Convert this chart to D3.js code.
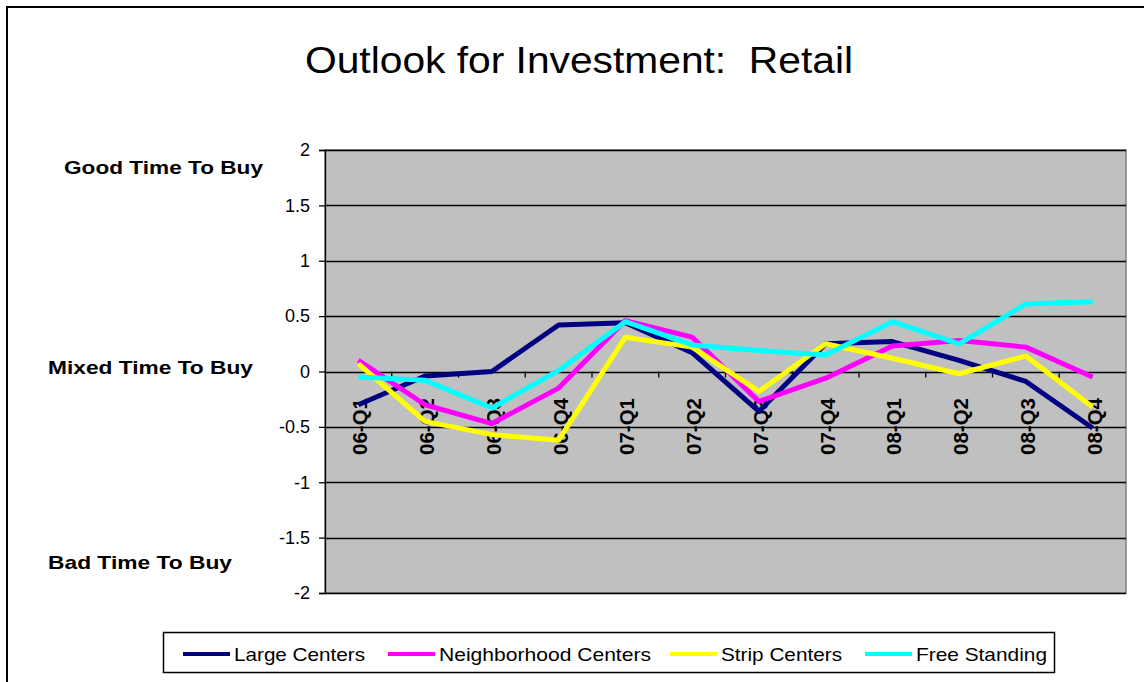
<!DOCTYPE html>
<html>
<head>
<meta charset="utf-8">
<script src="https://cdn.jsdelivr.net/npm/d3@7"></script>
<style>
  body { margin: 0; background: #fff; }
  text { font-family: "Liberation Sans", Arial, sans-serif; }
</style>
</head>
<body>
<div id="chart"></div>
<script>
const width = 1144,
      height = 682;

// quarters on the x axis
const quarters = ["06-Q1", "06-Q2", "06-Q3", "06-Q4", "07-Q1", "07-Q2",
                  "07-Q3", "07-Q4", "08-Q1", "08-Q2", "08-Q3", "08-Q4"];

const largeCenters        = [-0.30, -0.04, 0.00, 0.42, 0.44, 0.17, -0.36, 0.25, 0.27, 0.10, -0.09, -0.51];
const neighborhoodCenters = [0.10, -0.30, -0.47, -0.15, 0.46, 0.31, -0.27, -0.06, 0.23, 0.28, 0.22, -0.05];
const stripCenters        = [0.07, -0.45, -0.57, -0.62, 0.31, 0.22, -0.18, 0.25, 0.12, -0.02, 0.14, -0.32];
const freeStanding        = [-0.05, -0.08, -0.33, 0.01, 0.45, 0.24, 0.19, 0.15, 0.45, 0.25, 0.61, 0.63];

const seriesNames  = ["Large Centers", "Neighborhood Centers", "Strip Centers", "Free Standing"];
const seriesColors = ["#000080", "#ff00ff", "#ffff00", "#00ffff"];
const yTicks = [2, 1.5, 1, 0.5, 0, -0.5, -1, -1.5, -2];
const sideLabels = ["Good Time To Buy", "Mixed Time To Buy", "Bad Time To Buy"];
const sideValues = [1.85, 0.04, -1.72];

const series = seriesNames.map(function (name, i) {
  return { name: name, color: seriesColors[i],
           values: [largeCenters, neighborhoodCenters, stripCenters, freeStanding][i] };
});

const plot = { left: 325, top: 150, right: 1126, bottom: 593 };

const svg = d3.select("#chart").append("svg")
    .attr("width", width)
    .attr("height", height);

// outer frame (only top and left visible in the picture)
svg.append("path")
    .attr("d", "M7,682V7H1144")
    .attr("fill", "none")
    .attr("stroke", "#000")
    .attr("stroke-width", 2);

svg.append("text")
    .attr("x", 305)
    .attr("y", 73)
    .attr("font-size", 37)
    .attr("xml:space", "preserve")
    .attr("textLength", 548)
    .attr("lengthAdjust", "spacingAndGlyphs")
    .text("Outlook for Investment:  Retail");

const x = d3.scaleBand().domain(quarters).range([plot.left, plot.right]);
const y = d3.scaleLinear().domain([-2, 2]).range([plot.bottom, plot.top]);

svg.append("rect")
    .attr("x", plot.left)
    .attr("y", plot.top)
    .attr("width", plot.right - plot.left)
    .attr("height", plot.bottom - plot.top)
    .attr("fill", "#c0c0c0")
    .attr("stroke", "#808080")
    .attr("stroke-width", 1.5);

// grid lines
svg.selectAll(".grid")
    .data(yTicks)
    .enter().append("line")
    .attr("class", "grid")
    .attr("x1", plot.left)
    .attr("x2", plot.right)
    .attr("y1", function (d) { return Math.round(y(d)) + 0.5; })
    .attr("y2", function (d) { return Math.round(y(d)) + 0.5; })
    .attr("stroke", "#000")
    .attr("stroke-width", 1.3);

// y axis
const yAxis = svg.append("g")
    .attr("transform", "translate(" + plot.left + ",0)")
    .call(d3.axisLeft(y).tickValues(yTicks).tickSize(6).tickPadding(9)
      .tickFormat(function (d) { return String(d); }));
yAxis.select(".domain").attr("stroke", "#000").attr("stroke-width", 1.3);
yAxis.selectAll(".tick line").attr("stroke", "#000").attr("stroke-width", 1.3);
yAxis.selectAll(".tick text")
    .attr("font-size", 18)
    .attr("font-family", "Liberation Sans, Arial, sans-serif")
    .attr("fill", "#000");

// x axis at zero with ticks between categories
const boundaries = quarters.slice(1).map(function (q) { return x(q); });
svg.selectAll(".xtick")
    .data(boundaries)
    .enter().append("line")
    .attr("class", "xtick")
    .attr("x1", function (d) { return d; })
    .attr("x2", function (d) { return d; })
    .attr("y1", y(0))
    .attr("y2", y(0) + 6)
    .attr("stroke", "#000")
    .attr("stroke-width", 1.3);

svg.selectAll(".xlabel")
    .data(quarters)
    .enter().append("text")
    .attr("class", "xlabel")
    .attr("transform", function (d) {
      return "translate(" + (x(d) + x.bandwidth() / 2 + 9) + "," + 398 + ") rotate(-90)";
    })
    .attr("text-anchor", "end")
    .attr("font-size", 21)
    .attr("font-weight", "bold")
    .attr("textLength", 57)
    .attr("lengthAdjust", "spacingAndGlyphs")
    .text(function (d) { return d; });

// side labels
const sideX = [64, 48, 48];
const sideW = [199, 205, 184];
svg.selectAll(".side")
    .data(sideLabels)
    .enter().append("text")
    .attr("class", "side")
    .attr("x", function (d, i) { return sideX[i]; })
    .attr("y", function (d, i) { return y(sideValues[i]) + 7; })
    .attr("font-size", 19)
    .attr("font-weight", "bold")
    .attr("textLength", function (d, i) { return sideW[i]; })
    .attr("lengthAdjust", "spacingAndGlyphs")
    .text(function (d) { return d; });

const line = d3.line()
    .x(function (d, i) { return x(quarters[i]) + x.bandwidth() / 2; })
    .y(function (d) { return y(d); });

svg.selectAll(".series")
    .data(series)
    .enter().append("path")
    .attr("class", "series")
    .attr("d", function (d) { return line(d.values); })
    .attr("fill", "none")
    .attr("stroke", function (d) { return d.color; })
    .attr("stroke-width", 5)
    .attr("stroke-linejoin", "round");

// legend
const legend = svg.append("g");
legend.append("rect")
    .attr("x", 163.5)
    .attr("y", 632.5)
    .attr("width", 891)
    .attr("height", 40)
    .attr("fill", "#fff")
    .attr("stroke", "#000")
    .attr("stroke-width", 1.5);

const legendX = [183, 388, 670, 865];
const legendW = [131, 212, 121, 131];
const item = legend.selectAll(".item")
    .data(series)
    .enter().append("g")
    .attr("class", "item")
    .attr("transform", function (d, i) { return "translate(" + legendX[i] + ",654)"; });
item.append("line")
    .attr("x1", 0).attr("x2", 47)
    .attr("stroke", function (d) { return d.color; })
    .attr("stroke-width", 4);
item.append("text")
    .attr("x", 51)
    .attr("y", 7)
    .attr("font-size", 19)
    .attr("textLength", function (d, i) { return legendW[i]; })
    .attr("lengthAdjust", "spacingAndGlyphs")
    .text(function (d) { return d.name; });
</script>
</body>
</html>
